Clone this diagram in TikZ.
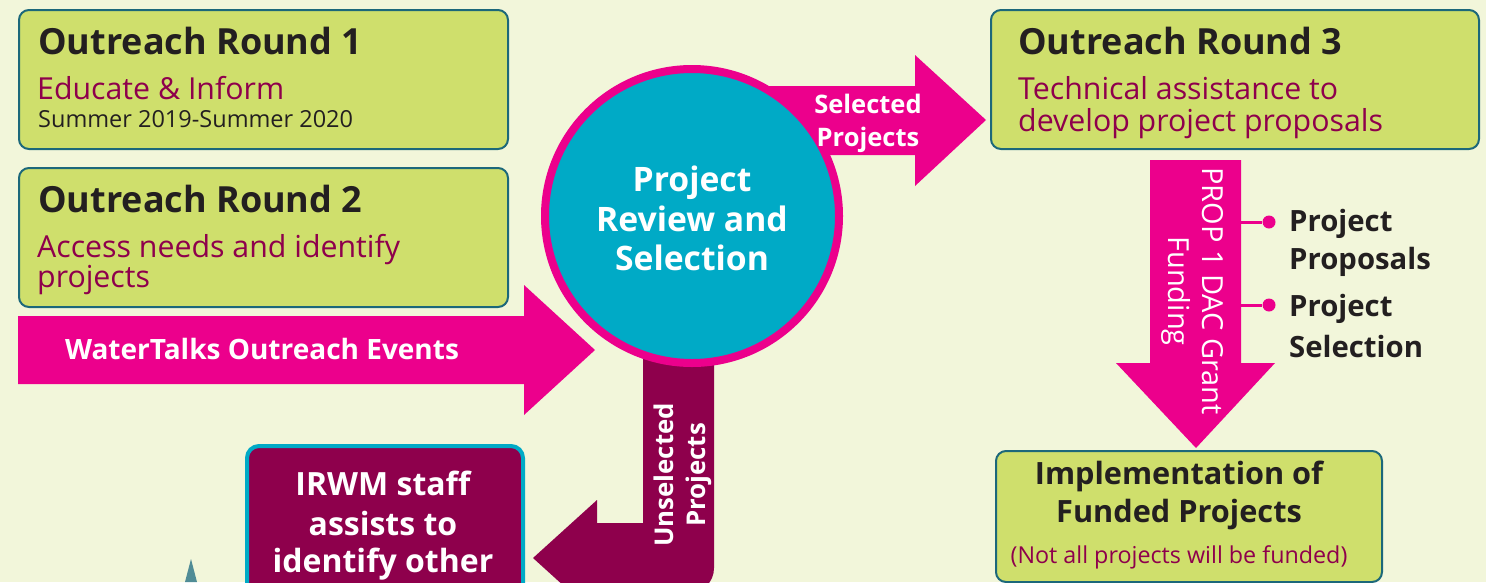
\documentclass[tikz,border=0pt]{standalone}
\usepackage{fontspec}
\setmainfont{Open Sans}
\definecolor{bg}{RGB}{242,246,218}
\definecolor{boxg}{RGB}{207,223,108}
\definecolor{boxb}{RGB}{28,104,122}
\definecolor{pinkc}{RGB}{236,0,140}
\definecolor{plum}{RGB}{142,0,76}
\definecolor{tealc}{RGB}{0,170,198}
\definecolor{ink}{RGB}{35,31,32}
\definecolor{spike}{RGB}{80,140,150}
\newcommand{\fs}[1]{\fontsize{#1}{#1}\selectfont}
\tikzset{
  gbox/.style={draw=boxb, fill=boxg, line width=2, rounded corners=10, anchor=north west, inner sep=0},
  head/.style={anchor=base west, inner sep=0, text=ink, font=\fs{36}\bfseries},
  sub/.style={anchor=base west, inner sep=0, text=plum, font=\fs{30.3}},
  wtxt/.style={inner sep=0, text=white, anchor=base},
  dotn/.style={circle, fill=pinkc, minimum size=13, inner sep=0},
  lnk/.style={pinkc, line width=3},
  blk/.style={anchor=base west, inner sep=0, text=ink, font=\fs{29.3}\bfseries}
}
\begin{document}
\begin{tikzpicture}[x=1pt,y=-1pt]
\fill[bg] (0,0) rectangle (1486,582);
\useasboundingbox (0,0) rectangle (1486,582);
\begin{scope}
\clip (0,0) rectangle (1486,582);
% boxes
\node[gbox, minimum width=489, minimum height=139] (r1) at (18,9) {};
\node[gbox, minimum width=489, minimum height=139] (r2) at (18,167) {};
\node[gbox, minimum width=488, minimum height=139] (r3) at (990,9) {};
\node[gbox, minimum width=386, minimum height=131] (imp) at (995,450) {};
% texts box 1
\node[head] (h1) at (38,54) {Outreach Round 1};
\node[sub] (s1) at (37,99) {Educate \& Inform};
\node[anchor=base west, inner sep=0, text=ink, font=\fs{23.5}] (d1t) at (38,127) {Summer 2019-Summer 2020};
% box 2
\node[head] (h2) at (38,212) {Outreach Round 2};
\node[sub] (s2a) at (37,257) {Access needs and identify};
\node[sub] (s2b) at (37,287) {projects};
% box 3
\node[head] (h3) at (1018,54) {Outreach Round 3};
\node[sub] (s3a) at (1018,99) {Technical assistance to};
\node[sub] (s3b) at (1018,131) {develop project proposals};
% WaterTalks arrow
\fill[pinkc] (18,316) -- (524,316) -- (524,285) -- (595,350) -- (524,415) -- (524,384) -- (18,384) -- cycle;
\node[wtxt, font=\fs{28}\bfseries] (wt) at (262,359) {WaterTalks Outreach Events};
% unselected arrow
\fill[plum] (643,330) -- (643,523) -- (597,523) -- (597,500) -- (533,558) -- (597,616) -- (597,593)
  -- (689,593) .. controls (703,593) and (714,582) .. (714,568) -- (714,330) -- cycle;
\node[wtxt, font=\fs{25.8}\bfseries, rotate=90] (una) at (673,475) {Unselected};
\node[wtxt, font=\fs{25.8}\bfseries, rotate=90] (unb) at (705,475) {Projects};
% selected arrow
\fill[pinkc] (760,86) -- (915,86) -- (915,55) -- (986,120) -- (915,186) -- (915,155) -- (760,155) -- cycle;
% circle
\node[circle, fill=tealc, draw=pinkc, line width=8, minimum size=294, inner sep=0] (rev) at (692,216) {};
\node[wtxt, font=\fs{33.7}\bfseries] (rv1) at (692,191) {Project};
\node[wtxt, font=\fs{33.7}\bfseries] (rv2) at (692,231) {Review and};
\node[wtxt, font=\fs{33.7}\bfseries] (rv3) at (692,270) {Selection};
\node[wtxt, font=\fs{25.5}\bfseries] (sel1) at (868,113) {Selected};
\node[wtxt, font=\fs{25.5}\bfseries] (sel2) at (868,146) {Projects};
% down arrow
\fill[pinkc] (1150,160) -- (1241,160) -- (1241,363) -- (1275,363) -- (1196,448) -- (1116,363) -- (1150,363) -- cycle;
\node[wtxt, font=\fs{29}, rotate=-90] (pr1) at (1202,291) {PROP 1 DAC Grant};
\node[wtxt, font=\fs{29}, rotate=-90] (pr2) at (1168,291) {Funding};
% connectors
\coordinate (c1) at (1241,222);
\coordinate (c2) at (1241,305);
\node[dotn] (p1) at (1269,222) {};
\node[dotn] (p2) at (1269,305) {};
\draw[lnk] (c1) -- (p1);
\draw[lnk] (c2) -- (p2);
\node[blk] (pp1) at (1289,231) {Project};
\node[blk] (pp2) at (1289,269) {Proposals};
\node[blk] (ps1) at (1289,316) {Project};
\node[blk] (ps2) at (1289,357) {Selection};
% implementation text
\node[wtxt, text=ink, font=\fs{30.7}\bfseries] (im1) at (1179,484) {Implementation of};
\node[wtxt, text=ink, font=\fs{30.7}\bfseries] (im2) at (1179,522) {Funded Projects};
\node[wtxt, text=plum, font=\fs{23.3}] (impn) at (1179,563) {(Not all projects will be funded)};
% IRWM box
\draw[fill=plum, draw=tealc, line width=4, rounded corners=12] (247,446) rectangle (523,640);
\node[wtxt, font=\fs{32}\bfseries] (ir1) at (383,495) {IRWM staff};
\node[wtxt, font=\fs{32}\bfseries] (ir2) at (383,535) {assists to};
\node[wtxt, font=\fs{32}\bfseries] (ir3) at (383,572) {identify other};
% spike
\fill[spike] (185,582) -- (191,559) -- (197,582) -- cycle;
\end{scope}
\end{tikzpicture}
\end{document}
